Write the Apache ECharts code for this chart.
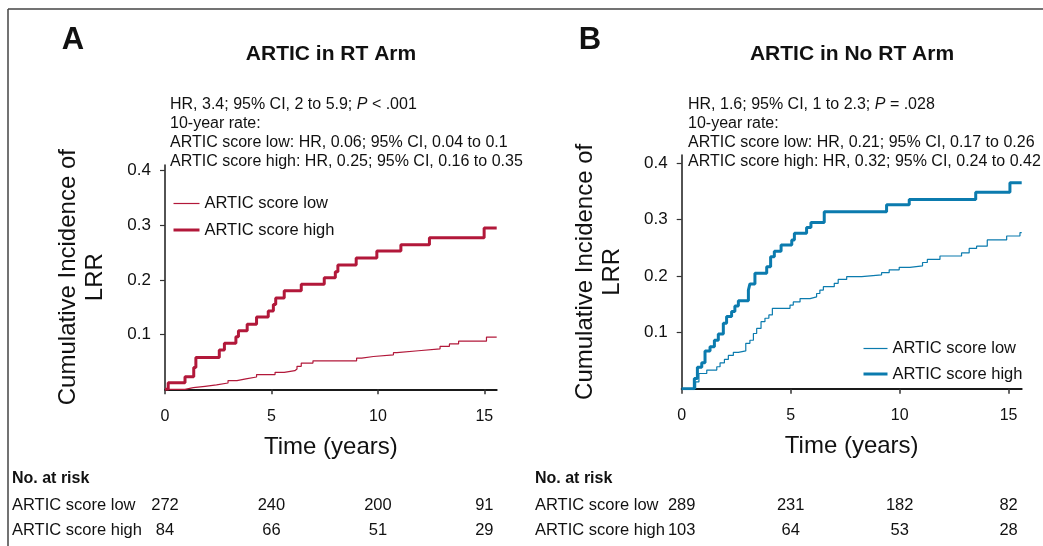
<!DOCTYPE html>
<html><head><meta charset="utf-8">
<script src="https://cdn.jsdelivr.net/npm/echarts@6/dist/echarts.min.js"></script>
<style>html,body{margin:0;padding:0;background:#fff}#c{width:1043px;height:546px}</style>
</head><body><div id="c"></div>
<script>
// ---------- data ----------
const xTicks = [0, 5, 10, 15];
const yTicks = [0.1, 0.2, 0.3, 0.4];

const tA_high = [0, 0.15, 0.94, 1.35, 1.45, 2.55, 2.79, 3.33, 3.45, 3.86, 4.3, 4.85, 5.09, 5.2, 5.6, 6.4, 7.48, 8.0, 8.12, 8.98, 9.95, 11.08, 12.42, 14.99, 15.58];
const vA_high = [0, 0.012, 0.023, 0.04, 0.058, 0.072, 0.084, 0.096, 0.107, 0.119, 0.132, 0.143, 0.155, 0.167, 0.18, 0.192, 0.204, 0.215, 0.227, 0.240, 0.253, 0.264, 0.277, 0.295, 0.295];

const tA_low = [0, 0.94, 1.33, 1.88, 2.42, 2.96, 3.38, 3.8, 4.3, 5.17, 5.6, 6.1, 6.2, 6.4, 6.95, 9.0, 9.24, 9.79, 10.73, 10.89, 11.9, 12.92, 13.36, 13.79, 15.1, 15.58];
const vA_low = [0, 0.003, 0.0055, 0.008, 0.0115, 0.016, 0.019, 0.0225, 0.027, 0.031, 0.034, 0.037, 0.042, 0.048, 0.052, 0.057, 0.060, 0.063, 0.067, 0.0705, 0.074, 0.0785, 0.083, 0.088, 0.0955, 0.0955];

const tB_high = [0, 0.58, 0.72, 0.92, 1.07, 1.30, 1.50, 1.68, 1.91, 2.06, 2.29, 2.44, 2.60, 3.06, 3.13, 3.36, 3.90, 4.08, 4.25, 4.56, 5.05, 5.17, 5.73, 5.93, 6.54, 9.40, 10.44, 13.49, 15.06, 15.6];
const vB_high = [0, 0.018, 0.038, 0.046, 0.067, 0.0745, 0.086, 0.097, 0.116, 0.128, 0.137, 0.147, 0.156, 0.175, 0.186, 0.205, 0.2165, 0.234, 0.244, 0.255, 0.264, 0.276, 0.286, 0.295, 0.314, 0.3265, 0.336, 0.3485, 0.3655, 0.3655];

const tB_low = [0, 0.64, 0.79, 1.15, 1.61, 1.76, 1.96, 2.14, 2.37, 2.60, 2.94, 3.13, 3.29, 3.44, 3.64, 3.82, 4.00, 4.16, 4.97, 5.12, 5.43, 5.89, 6.19, 6.34, 6.50, 7.00, 7.18, 7.57, 8.26, 9.17, 9.52, 9.98, 10.47, 11.05, 11.27, 11.85, 12.84, 13.19, 13.53, 14.02, 14.91, 15.52, 15.6];
const vB_low = [0, 0.012, 0.027, 0.033, 0.039, 0.046, 0.052, 0.059, 0.0645, 0.067, 0.0805, 0.086, 0.098, 0.107, 0.119, 0.125, 0.131, 0.1427, 0.1485, 0.154, 0.160, 0.163, 0.169, 0.175, 0.181, 0.187, 0.194, 0.199, 0.202, 0.206, 0.211, 0.2155, 0.218, 0.224, 0.2295, 0.2355, 0.241, 0.249, 0.253, 0.264, 0.271, 0.277, 0.277];

const riskTimes = [0, 5, 10, 15];
const riskA_low = [272, 240, 200, 91];
const riskA_high = [84, 66, 51, 29];
const riskB_low = [289, 231, 182, 82];
const riskB_high = [103, 64, 53, 28];

const seriesNames = ['ARTIC score low', 'ARTIC score high'];
const panelTitles = ['ARTIC in RT Arm', 'ARTIC in No RT Arm'];
const panelLetters = ['A', 'B'];
const statsA = ['HR, 3.4; 95% CI, 2 to 5.9; ', 'P', ' < .001', '10-year rate:', 'ARTIC score low: HR, 0.06; 95% CI, 0.04 to 0.1', 'ARTIC score high: HR, 0.25; 95% CI, 0.16 to 0.35'];
const statsB = ['HR, 1.6; 95% CI, 1 to 2.3; ', 'P', ' = .028', '10-year rate:', 'ARTIC score low: HR, 0.21; 95% CI, 0.17 to 0.26', 'ARTIC score high: HR, 0.32; 95% CI, 0.24 to 0.42'];

// ---------- chart ----------
const RED = '#B2183A', BLUE = '#0B7BAE', INK = '#111';
const W_LOW = 1.2, W_HIGH = 3;
const FONT = "'Liberation Sans', Arial, sans-serif";
const NARROW = "'Liberation Sans Narrow', 'Liberation Sans', Arial, sans-serif";
const pair = (t, v) => t.map((x, i) => [x, v[i]]);

const chart = echarts.init(document.getElementById('c'), null, {renderer: 'canvas'});

function xAx(grid, max) {
  return {
    type: 'value', gridIndex: grid, min: 0, max: max,
    axisLine: {show: true, lineStyle: {color: '#1a1a1a', width: 2}},
    axisTick: {show: true, inside: false, length: 5, customValues: xTicks, lineStyle: {color: '#333', width: 1.5}},
    axisLabel: {customValues: xTicks, fontSize: 16, color: INK, margin: 19, fontFamily: FONT},
    splitLine: {show: false},
    name: 'Time (years)', nameLocation: 'middle', nameGap: 46,
    nameTextStyle: {fontSize: 24, color: INK, fontFamily: NARROW}
  };
}
function yAx(grid, max) {
  return {
    type: 'value', gridIndex: grid, min: 0, max: max,
    axisLine: {show: true, lineStyle: {color: '#1a1a1a', width: 1.5}},
    axisTick: {show: true, inside: false, length: 5, customValues: yTicks, lineStyle: {color: '#333', width: 1.2}},
    axisLabel: {customValues: yTicks, fontSize: 17, color: INK, margin: 14, fontFamily: FONT},
    splitLine: {show: false},
    name: 'Cumulative Incidence of\nLRR', nameLocation: 'middle', nameGap: 56,
    nameTextStyle: {fontSize: 24, lineHeight: 27, color: INK, fontFamily: NARROW}
  };
}
function ser(name, x, data, color, w, z) {
  return {
    name: name, type: 'line', xAxisIndex: x, yAxisIndex: x, data: data,
    step: 'end', symbol: 'none', showSymbol: false, z: z,
    lineStyle: {color: color, width: w}, itemStyle: {color: color},
    emphasis: {disabled: true}, silent: true, animation: false
  };
}
function leg(prefix, left, top, w, gap) {
  return {left: left, top: top, padding: 0, orient: 'vertical', itemWidth: w, itemHeight: 14, itemGap: gap,
    selectedMode: false,
    data: [
      {name: prefix + seriesNames[0], lineStyle: {width: W_LOW}},
      {name: prefix + seriesNames[1], lineStyle: {width: W_HIGH}}
    ],
    itemStyle: {opacity: 0, borderWidth: 0},
    formatter: n => n.split('|')[1], textStyle: {fontSize: 16.5, color: INK, fontFamily: FONT}};
}

const option = {
  animation: false,
  textStyle: {fontFamily: FONT},
  grid: [
    {left: 165, top: 165, width: 331.7, height: 224.3},
    {left: 681.7, top: 155, width: 340, height: 233.7}
  ],
  xAxis: [xAx(0, 15.58), xAx(1, 15.6)],
  yAxis: [yAx(0, 0.41), yAx(1, 0.4148)],
  legend: [leg('A|', 172, 195, 26, 9.5), leg('B|', 862, 340, 24, 8.5)],
  series: [
    ser('A|' + seriesNames[0], 0, pair(tA_low, vA_low), RED, W_LOW, 2),
    ser('A|' + seriesNames[1], 0, pair(tA_high, vA_high), RED, W_HIGH, 3),
    ser('B|' + seriesNames[0], 1, pair(tB_low, vB_low), BLUE, W_LOW, 2),
    ser('B|' + seriesNames[1], 1, pair(tB_high, vB_high), BLUE, W_HIGH, 3)
  ]
};
chart.setOption(option);

// ---------- text elements ----------
function txt(x, y, text, opts) {
  return {type: 'text', x: x, y: y, silent: true,
    style: Object.assign({text: text, fill: INK, font: '15px ' + FONT, textVerticalAlign: 'middle'}, opts || {})};
}
function richTxt(x, y, parts) {
  return {type: 'text', x: x, y: y, silent: true, style: {
    text: parts[0] + '{i|' + parts[1] + '}' + parts[2], fill: INK, fontSize: 16, fontFamily: FONT,
    verticalAlign: 'middle',
    rich: {i: {fontStyle: 'italic', fontSize: 16, fontFamily: FONT, fill: INK}}
  }};
}
const els = [];
// frame
els.push({type: 'line', silent: true, shape: {x1: 8, y1: 9, x2: 1043, y2: 9}, style: {stroke: '#444', lineWidth: 1.5}});
els.push({type: 'line', silent: true, shape: {x1: 8, y1: 9, x2: 8, y2: 546}, style: {stroke: '#444', lineWidth: 1.5}});

const panels = [
  {letterX: 73, titleX: 331, statX: 170, stats: statsA, labX: 12, risks: [riskA_low, riskA_high], ax: 0},
  {letterX: 590, titleX: 852, statX: 688, stats: statsB, labX: 535, risks: [riskB_low, riskB_high], ax: 1}
];
const statY = [105, 124, 143, 162];
const riskY = [479, 505, 530];
panels.forEach((p, k) => {
  els.push(txt(p.letterX, 40, panelLetters[k], {font: 'bold 31px ' + FONT, textAlign: 'center'}));
  els.push(txt(p.titleX, 54, panelTitles[k], {font: 'bold 21px ' + FONT, textAlign: 'center'}));
  els.push(richTxt(p.statX, statY[0], p.stats.slice(0, 3)));
  for (let i = 0; i < 3; i++) els.push(txt(p.statX, statY[i + 1], p.stats[i + 3], {font: '16px ' + FONT}));
  els.push(txt(p.labX, riskY[0], 'No. at risk', {font: 'bold 16px ' + FONT}));
  for (let r = 0; r < 2; r++) {
    els.push(txt(p.labX, riskY[r + 1], seriesNames[r], {font: '16.5px ' + FONT}));
    riskTimes.forEach((t, j) => {
      const px = chart.convertToPixel({xAxisIndex: p.ax}, t);
      els.push(txt(px, riskY[r + 1], String(p.risks[r][j]), {font: '16.5px ' + FONT, textAlign: 'center'}));
    });
  }
});
chart.setOption({graphic: {elements: els}});
</script></body></html>
